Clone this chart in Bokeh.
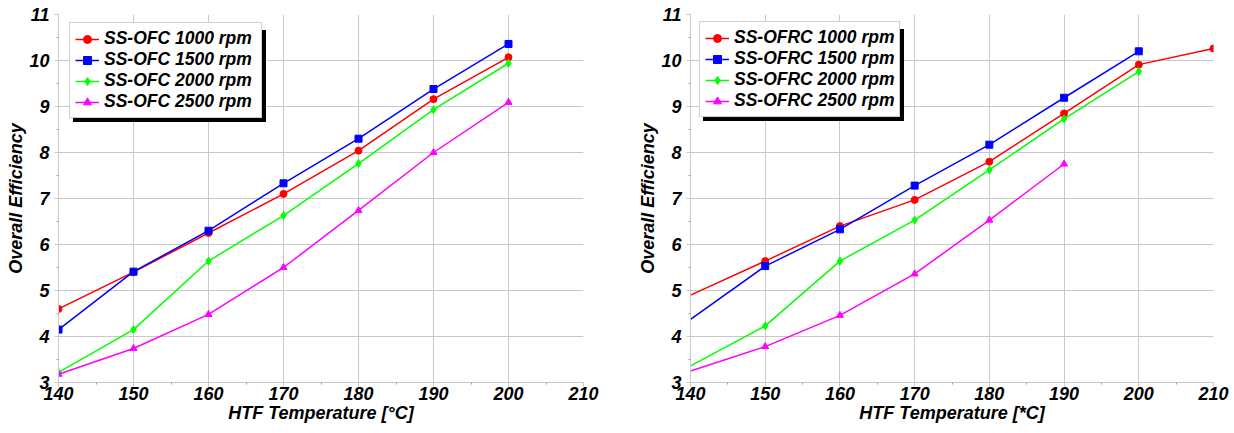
from bokeh.plotting import figure
from bokeh.models import (ColumnDataSource, Legend, LegendItem,
                          FixedTicker, Range1d)
from bokeh.layouts import row
from bokeh.embed import file_html
from bokeh.resources import INLINE

# ---------------- data ----------------
temps_ofc = [140, 150, 160, 170, 180, 190, 200]
ofc_1000 = [4.60, 5.40, 6.25, 7.10, 8.04, 9.16, 10.07]
ofc_1500 = [4.15, 5.41, 6.30, 7.33, 8.30, 9.38, 10.36]
ofc_2000 = [3.22, 4.15, 5.64, 6.63, 7.76, 8.93, 9.94]
ofc_2500 = [3.18, 3.74, 4.48, 5.50, 6.74, 8.00, 9.09]

temps_ofrc_1000 = [140, 150, 160, 170, 180, 190, 200, 210]
temps_ofrc_1500 = [140, 150, 160, 170, 180, 190, 200]
temps_ofrc_2000 = [140, 150, 160, 170, 180, 190, 200]
temps_ofrc_2500 = [140, 150, 160, 170, 180, 190]
ofrc_1000 = [4.90, 5.64, 6.40, 6.97, 7.80, 8.85, 9.91, 10.26]
ofrc_1500 = [4.37, 5.53, 6.33, 7.28, 8.17, 9.19, 10.20]
ofrc_2000 = [3.36, 4.23, 5.64, 6.53, 7.62, 8.73, 9.76]
ofrc_2500 = [3.25, 3.78, 4.46, 5.36, 6.53, 7.75]

labels_ofc = ["SS-OFC 1000 rpm", "SS-OFC 1500 rpm", "SS-OFC 2000 rpm", "SS-OFC 2500 rpm"]
labels_ofrc = ["SS-OFRC 1000 rpm", "SS-OFRC 1500 rpm", "SS-OFRC 2000 rpm", "SS-OFRC 2500 rpm"]

x_ticks = [140, 150, 160, 170, 180, 190, 200, 210]
y_ticks = [3, 4, 5, 6, 7, 8, 9, 10, 11]

colors = ["#ff0000", "#0000ff", "#00ff00", "#ff00ff"]
markers = ["circle", "square", "diamond", "triangle"]
msizes = [7, 7, 8, 7]

FONT = "Liberation Sans"
GRID = "#c8c8c8"


def make_legend(items, loc, shadow, label_w):
    lg = Legend(items=items, location=loc, padding=5,
                spacing=0, label_height=20, glyph_height=20, glyph_width=24,
                label_width=label_w,
                label_standoff=5, label_text_font=FONT,
                label_text_font_style="bold italic",
                label_text_font_size="17.5px", label_text_color="black",
                border_line_color="black" if shadow else "#a0a0a0",
                border_line_width=1,
                background_fill_color="black" if shadow else "white",
                background_fill_alpha=1.0)
    return lg


def build(xs_list, ys_list, labels, xlabel, frame_w, mb_left, mb_right,
          first_marker, leg_xy, label_w):
    p = figure(frame_width=frame_w, frame_height=368,
               x_range=Range1d(140, 210), y_range=Range1d(3, 11),
               output_backend="svg", toolbar_location=None,
               min_border_left=mb_left, min_border_right=mb_right,
               min_border_top=14, min_border_bottom=40)
    p.outline_line_color = None
    p.background_fill_color = "white"
    p.border_fill_color = "white"

    items = []
    for xs, ys, lab, c, m, ms in zip(xs_list, ys_list, labels, colors, markers, msizes):
        src = ColumnDataSource(dict(x=xs, y=ys))
        ln = p.line("x", "y", source=src, line_color=c, line_width=1.5)
        start = 0 if first_marker else 1
        msrc = ColumnDataSource(dict(x=xs[start:], y=ys[start:]))
        sc = p.scatter("x", "y", source=msrc, marker=m, size=ms,
                       fill_color=c, line_color=c)
        items.append(LegendItem(label=lab, renderers=[ln, sc]))

    lx, ly = leg_xy
    shadow_items = [LegendItem(label=" ", renderers=it.renderers) for it in items]
    p.add_layout(make_legend(shadow_items, (lx + 4, ly - 4), True, label_w))
    p.add_layout(make_legend(items, (lx, ly), False, label_w))

    p.xaxis.ticker = FixedTicker(ticks=x_ticks,
                                 minor_ticks=[t + 5 for t in x_ticks[:-1]])
    p.yaxis.ticker = FixedTicker(ticks=y_ticks,
                                 minor_ticks=[t + 0.5 for t in y_ticks[:-1]])
    p.xgrid.ticker = p.xaxis.ticker
    p.ygrid.ticker = p.yaxis.ticker
    p.grid.grid_line_color = GRID
    p.grid.grid_line_width = 1

    for ax in p.axis:
        ax.axis_line_color = GRID
        ax.major_tick_line_color = GRID
        ax.major_tick_in = 0
        ax.major_tick_out = 4
        ax.minor_tick_in = 0
        ax.minor_tick_out = 2
        ax.minor_tick_line_color = "#a0a0a0"
        ax.major_label_text_font = FONT
        ax.major_label_text_font_style = "bold italic"
        ax.major_label_text_font_size = "18px"
        ax.major_label_text_color = "black"
        ax.axis_label_text_font = FONT
        ax.axis_label_text_font_style = "bold italic"
        ax.axis_label_text_font_size = "18px"
        ax.axis_label_text_color = "black"
    p.xaxis.major_label_standoff = 0
    p.xaxis.axis_label_standoff = 0
    p.yaxis.major_label_standoff = 5
    p.yaxis.axis_label_standoff = 0
    p.xaxis.axis_label = xlabel
    p.yaxis.axis_label = "Overall Efficiency"
    return p


p1 = build([temps_ofc] * 4, [ofc_1000, ofc_1500, ofc_2000, ofc_2500],
           labels_ofc, "HTF Temperature [°C]", 525, 58, 45, True, (11, 264), 152)
p2 = build([temps_ofrc_1000, temps_ofrc_1500, temps_ofrc_2000, temps_ofrc_2500],
           [ofrc_1000, ofrc_1500, ofrc_2000, ofrc_2500],
           labels_ofrc, "HTF Temperature [*C]", 523, 62, 20, False, (9, 265), 160)

layout = row(p1, p2)
open("out.html", "w").write(file_html(layout, INLINE))
